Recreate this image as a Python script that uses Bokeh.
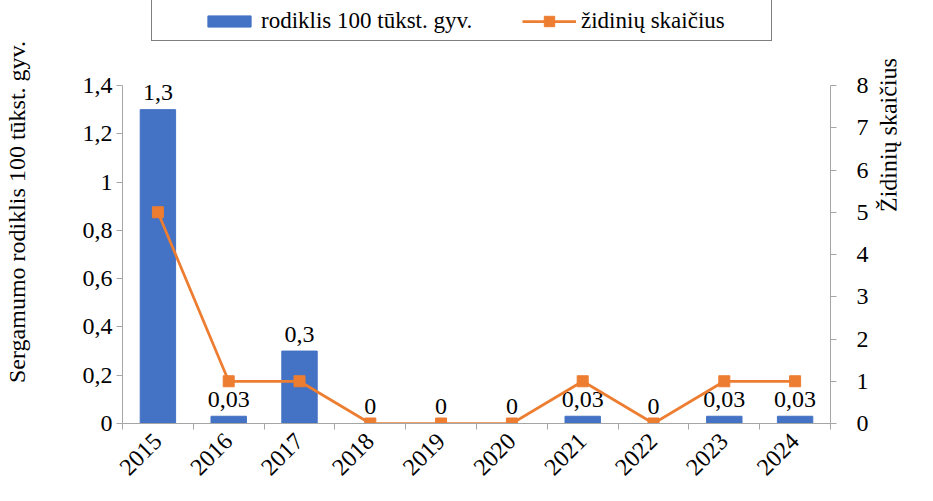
import math
from bokeh.plotting import figure
from bokeh.models import (Range1d, LinearAxis, FixedTicker, Legend, LegendItem,
                          ColumnDataSource, CustomJSTickFormatter)
from bokeh.core.properties import value
from bokeh.embed import file_html
from bokeh.resources import INLINE

years = ["2015", "2016", "2017", "2018", "2019", "2020", "2021", "2022", "2023", "2024"]
rate = [1.3, 0.03, 0.3, 0, 0, 0, 0.03, 0, 0.03, 0.03]
rate_labels = ["1,3", "0,03", "0,3", "0", "0", "0", "0,03", "0", "0,03", "0,03"]
foci = [5, 1, 1, 0, 0, 0, 1, 0, 1, 1]
left_ticks = [0, 0.2, 0.4, 0.6, 0.8, 1.0, 1.2, 1.4]
right_ticks = [0, 1, 2, 3, 4, 5, 6, 7, 8]

FONT = "Liberation Serif"
BLUE = "#4472C4"
ORANGE = "#ED7D31"
AXIS = "#A6A6A6"

# layout (pixels): the frame reaches the top of the canvas so the legend fits inside it
W, H = 917, 485
BORDER_L, BORDER_R, BORDER_B = 122, 87, 62
AXIS_TOP = 85                        # pixel row of the top tick
FRAME_H = H - BORDER_B               # frame spans from canvas top to x axis
AXIS_H = FRAME_H - AXIS_TOP
LEFT_MAX, RIGHT_MAX = left_ticks[-1], right_ticks[-1]

xs = [i + 0.5 for i in range(len(years))]
src = ColumnDataSource(dict(x=xs, rate=rate, lab=rate_labels, foci=foci))

p = figure(width=W, height=H, output_backend="svg", toolbar_location=None,
           x_range=Range1d(0, len(years)),
           y_range=Range1d(0, LEFT_MAX * FRAME_H / AXIS_H),
           min_border_left=BORDER_L, min_border_right=BORDER_R, min_border_top=0,
           min_border_bottom=BORDER_B)
p.outline_line_color = None
p.xgrid.visible = False
p.ygrid.visible = False
p.extra_y_ranges = {"r": Range1d(0, RIGHT_MAX * FRAME_H / AXIS_H)}

bars = p.vbar(x="x", top="rate", width=0.5, source=src, color=BLUE)
p.text(x="x", y="rate", text="lab", source=src, text_align="center",
       text_baseline="alphabetic", y_offset=-17, text_font=value(FONT),
       text_font_size="24px", text_color="black")
ln = p.line(x="x", y="foci", source=src, y_range_name="r", color=ORANGE, line_width=2.75)
sc = p.scatter(x="x", y="foci", source=src, y_range_name="r", marker="square",
               size=11, color=ORANGE)

# x axis
xa = p.xaxis[0]
xa.ticker = FixedTicker(ticks=xs, minor_ticks=list(range(len(years) + 1)))
xa.major_label_overrides = {x: y for x, y in zip(xs, years)}
xa.major_tick_line_color = None
xa.minor_tick_line_color = AXIS
xa.minor_tick_out = 6
xa.minor_tick_in = 0
xa.major_label_orientation = math.pi / 4
xa.major_label_standoff = 8

# left axis
ya = p.yaxis[0]
ya.ticker = FixedTicker(ticks=left_ticks, minor_ticks=[])
ya.bounds = (0, LEFT_MAX)
ya.formatter = CustomJSTickFormatter(code="return (Math.round(tick*10)/10).toString().replace('.', ',');")
ya.major_tick_out = 6
ya.major_tick_in = 0
ya.major_label_standoff = 4
ya.axis_label = "Sergamumo rodiklis 100 tūkst. gyv."
ya.axis_label_standoff = 50

ra = LinearAxis(y_range_name="r", ticker=FixedTicker(ticks=right_ticks, minor_ticks=[]),
                axis_label="Židinių skaičius", bounds=(0, RIGHT_MAX))
ra.major_tick_out = 6
ra.major_tick_in = 0
ra.major_label_standoff = 20
ra.axis_label_standoff = 17
ra.axis_label_orientation = math.pi / 2 + 0.001
p.add_layout(ra, "right")

for ax in [xa, ya, ra]:
    ax.axis_line_color = AXIS
    ax.major_label_text_font = FONT
    ax.major_label_text_font_size = "24px"
    ax.major_label_text_color = "black"
    ax.axis_label_text_font = FONT
    ax.axis_label_text_font_size = "24px"
    ax.axis_label_text_font_style = "normal"
    ax.axis_label_text_color = "black"
for ax in [ya, ra]:
    ax.major_tick_line_color = AXIS

# legend frame (an empty, invisible item sized to the box)
ghost = p.scatter(x=[], y=[], alpha=0)
box = Legend(items=[LegendItem(label=" ", renderers=[ghost])],
             location=(151 - BORDER_L, FRAME_H - 41))
box.glyph_width = 300
box.glyph_height = 40
box.label_height = 40
box.label_width = 319
box.label_standoff = 0
box.padding = 0
box.margin = 0
box.spacing = 0
box.border_line_color = "black"
box.border_line_width = 1.5
box.background_fill_color = "white"
box.background_fill_alpha = 1
p.add_layout(box, "center")


def item_legend(item, x_left, glyph_h):
    lg = Legend(items=[item], orientation="horizontal",
                location=(x_left - BORDER_L, FRAME_H - 21 - 13))
    lg.label_text_font = FONT
    lg.label_text_font_size = "23px"
    lg.label_text_color = "black"
    lg.glyph_width = 54
    lg.glyph_height = glyph_h
    lg.label_height = 26
    lg.label_standoff = 5
    lg.padding = 0
    lg.margin = 0
    lg.border_line_color = None
    lg.background_fill_alpha = 0
    p.add_layout(lg, "center")


item_legend(LegendItem(label="rodiklis 100 tūkst. gyv.", renderers=[bars]), 202, 14)
item_legend(LegendItem(label="židinių skaičius", renderers=[ln, sc]), 522, 26)

open("out.html", "w").write(file_html(p, INLINE))
